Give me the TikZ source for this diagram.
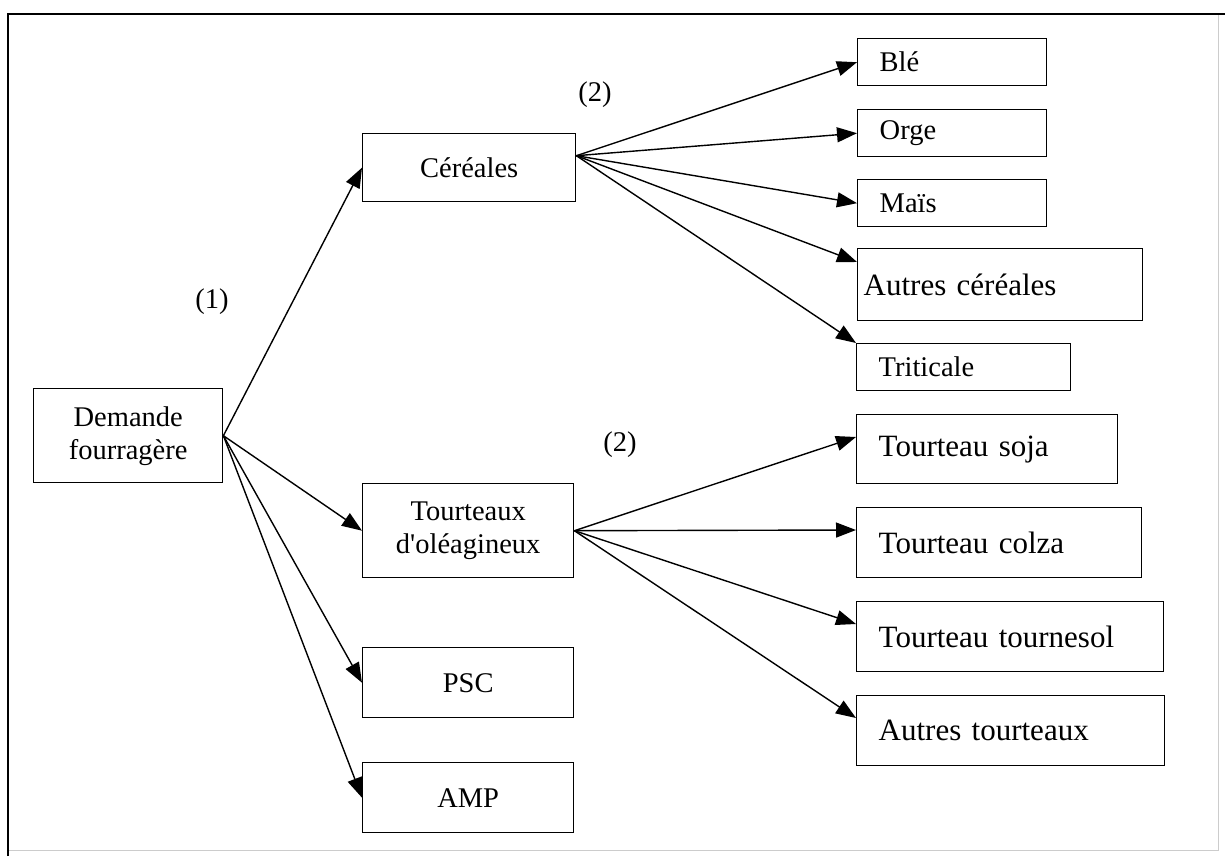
\documentclass[tikz,border=0pt]{standalone}
\usepackage{fontspec}
\setmainfont{Liberation Serif}[Ligatures=TeXOff]
\usetikzlibrary{arrows.meta,positioning,calc}

\begin{document}
\begin{tikzpicture}[x=1pt,y=-1pt,
  box/.style={draw,line width=1.4pt,inner sep=0pt,anchor=north west,align=center,
    font=\fontsize{28.5}{33}\selectfont},
  leaf/.style={box,align=left,inner xsep=22pt},
  bigleaf/.style={leaf,font=\fontsize{31}{35}\selectfont},
  arr/.style={line width=1.4pt,-{Triangle[length=20pt,width=15pt]}},
  tag/.style={font=\fontsize{28.5}{33}\selectfont}]
  \useasboundingbox (0,0) rectangle (1225,856);
  % frame
  \draw[black!20,line width=1pt] (1218,14) -- (1218,850) -- (8,850);
  \draw[line width=1.6pt] (8,856) -- (8,14) -- (1225,14);
  % first level
  \node[box,minimum width=189pt,minimum height=94pt] (dem) at (33,388) {Demande\\fourragère};
  \node[box,minimum width=213pt,minimum height=68pt] (cer) at (362,133) {Céréales};
  \node[box,minimum width=211pt,minimum height=94pt] (tour) at (362,483) {Tourteaux\\d'oléagineux};
  \node[box,minimum width=211pt,minimum height=70pt] (psc) at (362,647) {PSC};
  \node[box,minimum width=211pt,minimum height=70pt] (amp) at (362,762) {AMP};
  % cereals
  \node[leaf,text width=145pt,minimum height=47pt] (ble) at (857,38) {Blé};
  \node[leaf,text width=145pt,minimum height=47pt] (orge) at (857,109) {Orge};
  \node[leaf,text width=145pt,minimum height=47pt] (mais) at (857,179) {Maïs};
  \node[bigleaf,inner xsep=6pt,text width=273pt,minimum height=72pt] (autc) at (857,248) {Autres céréales};
  \node[leaf,text width=170pt,minimum height=47pt] (trit) at (856,343) {Triticale};
  % oilcakes
  \node[bigleaf,text width=217pt,minimum height=69pt] (soja) at (856,414) {Tourteau soja};
  \node[bigleaf,text width=241pt,minimum height=70pt] (colza) at (856,507) {Tourteau colza};
  \node[bigleaf,text width=263pt,minimum height=70pt] (tourn) at (856,601) {Tourteau tournesol};
  \node[bigleaf,text width=264pt,minimum height=70pt] (autt) at (856,695) {Autres tourteaux};
  % labels
  \node[tag] (lab1) at (212,302) {(1)};
  \node[tag] (lab2a) at (595,95) {(2)};
  \node[tag] (lab2b) at (620,445) {(2)};
  % connectors
  \foreach \t in {cer,tour,psc,amp} \draw[arr] (dem.east) -- (\t.west);
  \foreach \t in {ble,orge,mais} \draw[arr] ([yshift=12pt]cer.east) -- (\t.west);
  \draw[arr] ([yshift=12pt]cer.east) -- ([yshift=-14pt]autc.north west);
  \draw[arr] ([yshift=12pt]cer.east) -- (trit.north west);
  \foreach \t in {soja,colza,tourn,autt} \draw[arr] (tour.east) -- ([yshift=-23pt]\t.north west);
\end{tikzpicture}
\end{document}
